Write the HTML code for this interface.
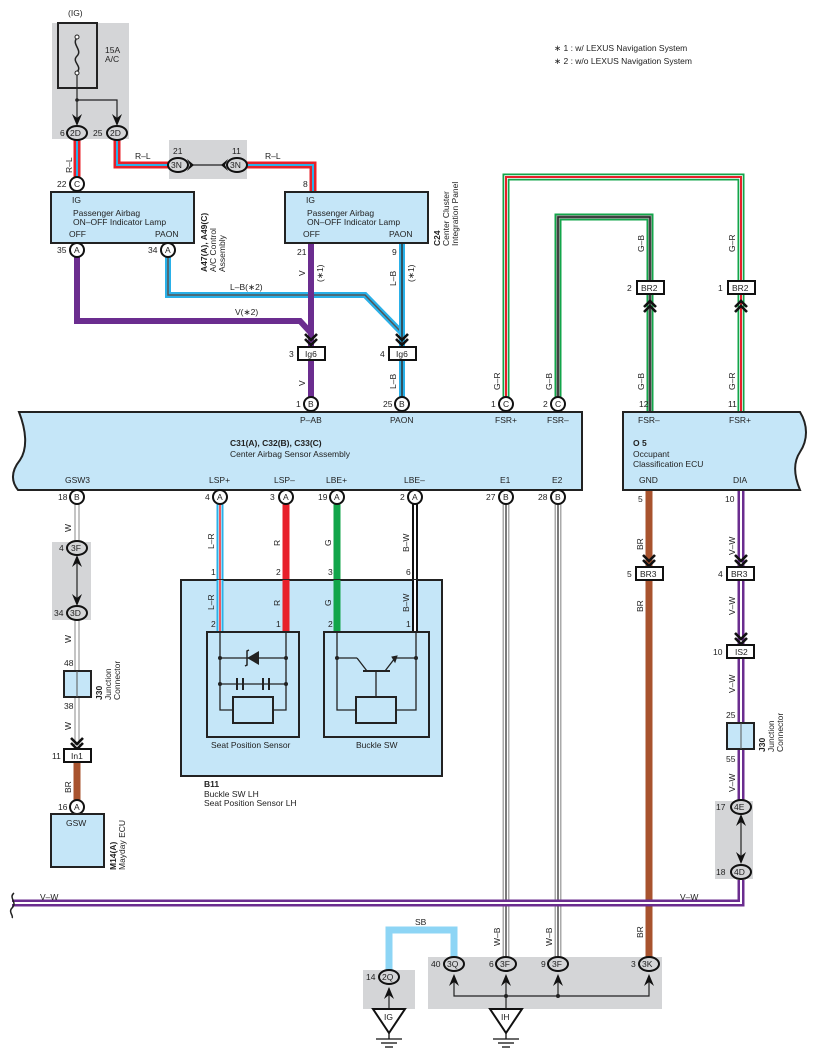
<!DOCTYPE html>
<html><head><meta charset="utf-8"><style>
html,body{margin:0;padding:0;background:#fff}
svg{display:block}
text{font-family:"Liberation Sans",sans-serif;font-size:8.5px;fill:#222}
.b{font-weight:bold}
</style></head><body>
<svg width="816" height="1062" viewBox="0 0 816 1062" xmlns="http://www.w3.org/2000/svg">
<defs>
<g id="chev"><polyline points="-6,-9 0,-3 6,-9" fill="none" stroke="#111" stroke-width="2.6"/><polyline points="-6,-4 0,2 6,-4" fill="none" stroke="#111" stroke-width="2.6"/></g>
<g id="chevu"><polyline points="-6,9 0,3 6,9" fill="none" stroke="#111" stroke-width="2.6"/><polyline points="-6,4 0,-2 6,4" fill="none" stroke="#111" stroke-width="2.6"/></g>
<path id="mu" d="M-5,8 L0,-4 L5,8 L0,4 Z" fill="#111"/>
<path id="md" d="M-5,-8 L0,4 L5,-8 L0,-4 Z" fill="#111"/>
</defs>

<!-- grey boxes -->
<rect x="52" y="23" width="77" height="116" fill="#d4d5d7"/>
<rect x="169" y="140" width="78" height="39" fill="#d4d5d7"/>
<rect x="52" y="542" width="39" height="78" fill="#d4d5d7"/>
<rect x="715" y="801" width="38" height="78" fill="#d4d5d7"/>
<rect x="428" y="957" width="234" height="52" fill="#d4d5d7"/>
<rect x="363" y="970" width="52" height="39" fill="#d4d5d7"/>

<!-- fuse -->
<text x="68" y="16">(IG)</text>
<rect x="58" y="23" width="39" height="65" fill="none" stroke="#222" stroke-width="2"/>
<path d="M77,38 C71,44 83,50 77,56 C71,62 83,66 77,72" fill="none" stroke="#222" stroke-width="1.5"/>
<circle cx="77" cy="37" r="2" fill="#fff" stroke="#222"/><circle cx="77" cy="73" r="2" fill="#fff" stroke="#222"/>
<text x="105" y="53">15A</text><text x="105" y="62">A/C</text>
<polyline points="77,75 77,122" stroke="#222" stroke-width="1.2" fill="none"/>
<polyline points="77,100 117,100 117,122" stroke="#222" stroke-width="1.2" fill="none"/>
<circle cx="77" cy="100" r="1.8" fill="#222"/>
<use href="#md" x="77" y="122"/><use href="#md" x="117" y="122"/>

<!-- R-L wires -->
<g fill="none" stroke-linejoin="miter">
<polyline points="77,140 77,184" stroke="#e8202a" stroke-width="7"/>
<polyline points="77,140 77,184" stroke="#2ab0e8" stroke-width="2"/>
<polyline points="117,140 117,165 170,165" stroke="#e8202a" stroke-width="7"/>
<polyline points="117,140 117,165 170,165" stroke="#2ab0e8" stroke-width="2"/>
<polyline points="245,165 313,165 313,192" stroke="#e8202a" stroke-width="7"/>
<polyline points="245,165 313,165 313,192" stroke="#2ab0e8" stroke-width="2"/>
</g>
<line x1="190" y1="165" x2="225" y2="165" stroke="#222" stroke-width="1.2"/>
<path d="M187,159 L194,165 L187,171 L190,165Z M228,159 L221,165 L228,171 L225,165Z" fill="#111"/>
<ellipse cx="77" cy="133" rx="10" ry="7" fill="#d4d5d7" stroke="#111" stroke-width="2"/><text x="70" y="136">2D</text><text x="60" y="136">6</text>
<ellipse cx="117" cy="133" rx="10" ry="7" fill="#d4d5d7" stroke="#111" stroke-width="2"/><text x="110" y="136">2D</text><text x="93" y="136">25</text>
<ellipse cx="178" cy="165" rx="10" ry="7" fill="#d4d5d7" stroke="#111" stroke-width="2"/><text x="171" y="168">3N</text><text x="173" y="154">21</text>
<ellipse cx="237" cy="165" rx="10" ry="7" fill="#d4d5d7" stroke="#111" stroke-width="2"/><text x="230" y="168">3N</text><text x="232" y="154">11</text>
<text x="135" y="159">R–L</text><text x="265" y="159">R–L</text>
<text transform="translate(72,173) rotate(-90)">R–L</text>
<text x="303" y="187">8</text>

<!-- purple and L-B wires -->
<g fill="none" stroke-linejoin="miter">
<polyline points="168,256 168,295 365,295 402,333" stroke="#2ab0e8" stroke-width="6"/>
<polyline points="168,256 168,295 365,295 402,333" stroke="#555" stroke-width="1.5"/>
<polyline points="77,256 77,321 300,321 311,333 311,398" stroke="#6b2d8f" stroke-width="6"/>
<polyline points="402,243 402,398" stroke="#2ab0e8" stroke-width="6"/>
<polyline points="402,243 402,398" stroke="#333" stroke-width="1.5"/>
<polyline points="311,243 311,335" stroke="#6b2d8f" stroke-width="6"/>
</g>
<text x="230" y="290">L–B(∗2)</text><text x="235" y="315">V(∗2)</text>
<text transform="translate(305,276) rotate(-90)">V</text>
<text transform="translate(323,282) rotate(-90)">(∗1)</text>
<text transform="translate(396,286) rotate(-90)">L–B</text>
<text transform="translate(414,282) rotate(-90)">(∗1)</text>
<text x="297" y="255">21</text><text x="392" y="255">9</text>
<use href="#chev" x="311" y="343"/><use href="#chev" x="402" y="343"/>
<rect x="298" y="347" width="27" height="13" fill="#fff" stroke="#111" stroke-width="2"/><text x="305" y="357">Ig6</text><text x="289" y="357">3</text>
<rect x="389" y="347" width="27" height="13" fill="#fff" stroke="#111" stroke-width="2"/><text x="396" y="357">Ig6</text><text x="380" y="357">4</text>
<text transform="translate(305,386) rotate(-90)">V</text>
<text transform="translate(396,389) rotate(-90)">L–B</text>

<!-- A47 box -->
<rect x="51" y="192" width="143" height="51" fill="#c5e6f8" stroke="#222" stroke-width="2"/>
<text x="72" y="203">IG</text><text x="73" y="216">Passenger Airbag</text><text x="73" y="225">ON–OFF Indicator Lamp</text>
<text x="69" y="237">OFF</text><text x="155" y="237">PAON</text>
<text class="b" transform="translate(207,272) rotate(-90)">A47(A), A49(C)</text>
<text transform="translate(216,272) rotate(-90)">A/C Control</text>
<text transform="translate(225,272) rotate(-90)">Assembly</text>
<!-- C24 box -->
<rect x="285" y="192" width="143" height="51" fill="#c5e6f8" stroke="#222" stroke-width="2"/>
<text x="306" y="203">IG</text><text x="307" y="216">Passenger Airbag</text><text x="307" y="225">ON–OFF Indicator Lamp</text>
<text x="303" y="237">OFF</text><text x="389" y="237">PAON</text>
<text class="b" transform="translate(440,246) rotate(-90)">C24</text>
<text transform="translate(449,246) rotate(-90)">Center Cluster</text>
<text transform="translate(458,246) rotate(-90)">Integration Panel</text>

<circle cx="77" cy="184" r="7" fill="#fff" stroke="#111" stroke-width="2"/><text x="74" y="187">C</text><text x="57" y="187">22</text>
<circle cx="77" cy="250" r="7" fill="#fff" stroke="#111" stroke-width="2"/><text x="74" y="253">A</text><text x="57" y="253">35</text>
<circle cx="168" cy="250" r="7" fill="#fff" stroke="#111" stroke-width="2"/><text x="165" y="253">A</text><text x="148" y="253">34</text>

<!-- G-R / G-B -->
<g fill="none">
<polyline points="506,398 506,177 741,177 741,411" stroke="#12a54a" stroke-width="7"/>
<polyline points="506,398 506,177 741,177 741,411" stroke="#fff" stroke-width="3.5"/>
<polyline points="506,398 506,177 741,177 741,411" stroke="#e8202a" stroke-width="2"/>
<polyline points="558,398 558,217 650,217 650,411" stroke="#12a54a" stroke-width="7"/>
<polyline points="558,398 558,217 650,217 650,411" stroke="#999" stroke-width="3.5"/>
<polyline points="558,398 558,217 650,217 650,411" stroke="#222" stroke-width="1.5"/>
</g>
<text transform="translate(500,390) rotate(-90)">G–R</text>
<text transform="translate(552,390) rotate(-90)">G–B</text>
<text transform="translate(644,252) rotate(-90)">G–B</text>
<text transform="translate(735,252) rotate(-90)">G–R</text>
<text transform="translate(644,390) rotate(-90)">G–B</text>
<text transform="translate(735,390) rotate(-90)">G–R</text>
<text x="639" y="407">12</text><text x="728" y="407">11</text>
<rect x="637" y="281" width="27" height="13" fill="#fff" stroke="#111" stroke-width="2"/><text x="641" y="291">BR2</text><text x="627" y="291">2</text>
<rect x="728" y="281" width="27" height="13" fill="#fff" stroke="#111" stroke-width="2"/><text x="732" y="291">BR2</text><text x="718" y="291">1</text>
<use href="#chevu" x="650" y="303"/><use href="#chevu" x="741" y="303"/>

<!-- lower wires -->
<g fill="none">
<line x1="77" y1="500" x2="77" y2="745" stroke="#888" stroke-width="5"/><line x1="77" y1="500" x2="77" y2="745" stroke="#fff" stroke-width="3"/>
<line x1="77" y1="760" x2="77" y2="802" stroke="#a8532e" stroke-width="7"/>
<line x1="220" y1="500" x2="220" y2="632" stroke="#2ab0e8" stroke-width="7"/><line x1="220" y1="500" x2="220" y2="632" stroke="#fff" stroke-width="3"/><line x1="220" y1="500" x2="220" y2="632" stroke="#e8202a" stroke-width="1.5"/>
<line x1="286" y1="500" x2="286" y2="632" stroke="#e8202a" stroke-width="7"/>
<line x1="337" y1="500" x2="337" y2="632" stroke="#12a54a" stroke-width="7"/>
<line x1="415" y1="500" x2="415" y2="632" stroke="#111" stroke-width="6"/><line x1="415" y1="500" x2="415" y2="632" stroke="#fff" stroke-width="2"/>
<line x1="506" y1="500" x2="506" y2="958" stroke="#aaa" stroke-width="7"/><line x1="506" y1="500" x2="506" y2="958" stroke="#fff" stroke-width="4"/><line x1="506" y1="500" x2="506" y2="958" stroke="#222" stroke-width="1.2"/>
<line x1="558" y1="500" x2="558" y2="958" stroke="#aaa" stroke-width="7"/><line x1="558" y1="500" x2="558" y2="958" stroke="#fff" stroke-width="4"/><line x1="558" y1="500" x2="558" y2="958" stroke="#222" stroke-width="1.2"/>
<line x1="649" y1="490" x2="649" y2="958" stroke="#a8532e" stroke-width="7"/>
<polyline points="741,490 741,903 12,903" stroke="#6b2d8f" stroke-width="7"/>
<polyline points="741,490 741,903 12,903" stroke="#fff" stroke-width="2"/>
<polyline points="389,970 389,930 454,930 454,958" stroke="#8dd5f5" stroke-width="7"/>
</g>
<rect x="736" y="800" width="10" height="80" fill="#d4d5d7"/>
<line x1="741" y1="818" x2="741" y2="862" stroke="#222" stroke-width="1.2"/>
<use href="#mu" x="741" y="818"/><use href="#md" x="741" y="860"/>
<rect x="72" y="542" width="10" height="78" fill="#d4d5d7"/>
<line x1="77" y1="558" x2="77" y2="604" stroke="#222" stroke-width="1.2"/>
<use href="#mu" x="77" y="559"/><use href="#md" x="77" y="602"/>
<path d="M14,893 C8,898 18,902 12,908 C8,912 14,916 12,918" fill="none" stroke="#222" stroke-width="1.5"/>
<text x="40" y="900">V–W</text><text x="680" y="900">V–W</text>

<!-- main box -->
<path d="M19,412 L582,412 L582,490 L18,490 C10,480 12,470 20,460 C28,448 26,430 19,412Z" fill="#c5e6f8" stroke="#222" stroke-width="2"/>
<text class="b" x="230" y="446">C31(A), C32(B), C33(C)</text><text x="230" y="457">Center Airbag Sensor Assembly</text>
<text x="300" y="423">P–AB</text><text x="390" y="423">PAON</text><text x="495" y="423">FSR+</text><text x="547" y="423">FSR–</text>
<text x="65" y="483">GSW3</text><text x="209" y="483">LSP+</text><text x="274" y="483">LSP–</text><text x="326" y="483">LBE+</text><text x="404" y="483">LBE–</text><text x="500" y="483">E1</text><text x="552" y="483">E2</text>
<!-- O5 -->
<path d="M623,412 L800,412 C808,425 808,440 800,452 C792,464 795,478 800,490 L623,490Z" fill="#c5e6f8" stroke="#222" stroke-width="2"/>
<text x="638" y="423">FSR–</text><text x="729" y="423">FSR+</text>
<text class="b" x="633" y="446">O 5</text><text x="633" y="457">Occupant</text><text x="633" y="467">Classification ECU</text>
<text x="639" y="483">GND</text><text x="733" y="483">DIA</text>

<!-- connectors on main box -->
<g stroke="#111" stroke-width="2" fill="#fff">
<circle cx="311" cy="404" r="7"/><circle cx="402" cy="404" r="7"/><circle cx="506" cy="404" r="7"/><circle cx="558" cy="404" r="7"/>
<circle cx="77" cy="497" r="7"/><circle cx="220" cy="497" r="7"/><circle cx="286" cy="497" r="7"/><circle cx="337" cy="497" r="7"/><circle cx="415" cy="497" r="7"/><circle cx="506" cy="497" r="7"/><circle cx="558" cy="497" r="7"/>
</g>
<text x="308" y="407">B</text><text x="296" y="407">1</text><text x="399" y="407">B</text><text x="383" y="407">25</text>
<text x="503" y="407">C</text><text x="491" y="407">1</text><text x="555" y="407">C</text><text x="543" y="407">2</text>
<text x="74" y="500">B</text><text x="58" y="500">18</text><text x="217" y="500">A</text><text x="205" y="500">4</text>
<text x="283" y="500">A</text><text x="270" y="500">3</text><text x="334" y="500">A</text><text x="318" y="500">19</text>
<text x="412" y="500">A</text><text x="400" y="500">2</text><text x="503" y="500">B</text><text x="486" y="500">27</text>
<text x="555" y="500">B</text><text x="538" y="500">28</text>
<text x="638" y="502">5</text><text x="725" y="502">10</text>

<!-- left chain -->
<text transform="translate(71,532) rotate(-90)">W</text>
<ellipse cx="77" cy="548" rx="10" ry="7" fill="#d4d5d7" stroke="#111" stroke-width="2"/><text x="71" y="551">3F</text><text x="59" y="551">4</text>
<ellipse cx="77" cy="613" rx="10" ry="7" fill="#d4d5d7" stroke="#111" stroke-width="2"/><text x="70" y="616">3D</text><text x="54" y="616">34</text>
<text transform="translate(71,643) rotate(-90)">W</text>
<text x="64" y="666">48</text>
<rect x="64" y="671" width="27" height="26" fill="#c5e6f8" stroke="#222" stroke-width="2"/><line x1="77" y1="671" x2="77" y2="697" stroke="#555"/>
<text x="64" y="709">38</text>
<text class="b" transform="translate(102,700) rotate(-90)">J30</text>
<text transform="translate(111,700) rotate(-90)">Junction</text><text transform="translate(120,700) rotate(-90)">Connector</text>
<text transform="translate(71,730) rotate(-90)">W</text>
<use href="#chev" x="77" y="747"/>
<rect x="64" y="749" width="27" height="13" fill="#fff" stroke="#111" stroke-width="2"/><text x="71" y="759">In1</text><text x="52" y="759">11</text>
<text transform="translate(71,793) rotate(-90)">BR</text>
<circle cx="77" cy="807" r="7" fill="#fff" stroke="#111" stroke-width="2"/><text x="74" y="810">A</text><text x="58" y="810">16</text>
<rect x="51" y="814" width="53" height="53" fill="#c5e6f8" stroke="#222" stroke-width="2"/><text x="66" y="826">GSW</text>
<text class="b" transform="translate(116,870) rotate(-90)">M14(A)</text><text transform="translate(125,870) rotate(-90)">Mayday ECU</text>

<!-- B11 -->
<rect x="181" y="580" width="261" height="196" fill="#c5e6f8" stroke="#222" stroke-width="2"/>
<line x1="220" y1="580" x2="220" y2="632" stroke="#2ab0e8" stroke-width="7"/><line x1="220" y1="580" x2="220" y2="632" stroke="#fff" stroke-width="3"/><line x1="220" y1="580" x2="220" y2="632" stroke="#e8202a" stroke-width="1.5"/>
<line x1="286" y1="580" x2="286" y2="632" stroke="#e8202a" stroke-width="7"/>
<line x1="337" y1="580" x2="337" y2="632" stroke="#12a54a" stroke-width="7"/>
<line x1="415" y1="580" x2="415" y2="632" stroke="#111" stroke-width="6"/><line x1="415" y1="580" x2="415" y2="632" stroke="#fff" stroke-width="2"/>
<text transform="translate(214,549) rotate(-90)">L–R</text><text transform="translate(280,546) rotate(-90)">R</text>
<text transform="translate(331,546) rotate(-90)">G</text><text transform="translate(409,552) rotate(-90)">B–W</text>
<text transform="translate(214,610) rotate(-90)">L–R</text><text transform="translate(280,606) rotate(-90)">R</text>
<text transform="translate(331,606) rotate(-90)">G</text><text transform="translate(409,612) rotate(-90)">B–W</text>
<text x="211" y="575">1</text><text x="276" y="575">2</text><text x="328" y="575">3</text><text x="406" y="575">6</text>
<text x="211" y="627">2</text><text x="276" y="627">1</text><text x="328" y="627">2</text><text x="406" y="627">1</text>
<g fill="none" stroke="#222" stroke-width="1.3">
<rect x="207" y="632" width="92" height="105" stroke-width="2"/>
<polyline points="220,632 220,710 233,710"/><polyline points="286,632 286,710 273,710"/>
<rect x="233" y="697" width="40" height="26" stroke-width="2"/>
<line x1="220" y1="658" x2="286" y2="658"/><line x1="220" y1="684" x2="243" y2="684"/><line x1="263" y1="684" x2="286" y2="684"/>
<line x1="237" y1="678" x2="237" y2="690" stroke-width="2"/><line x1="243" y1="678" x2="243" y2="690" stroke-width="2"/>
<line x1="243" y1="684" x2="263" y2="684"/>
<line x1="263" y1="678" x2="263" y2="690" stroke-width="2"/><line x1="269" y1="678" x2="269" y2="690" stroke-width="2"/>
<polyline points="245,666 247,665 247,651 249,650" stroke-width="1.5"/>
<rect x="324" y="632" width="105" height="105" stroke-width="2"/>
<polyline points="337,632 337,710 356,710"/><polyline points="416,632 416,710 396,710"/>
<rect x="356" y="697" width="40" height="26" stroke-width="2"/>
<line x1="337" y1="658" x2="357" y2="658"/><line x1="357" y1="658" x2="367" y2="671"/>
<line x1="363" y1="671" x2="390" y2="671" stroke-width="2"/><line x1="385" y1="671" x2="395" y2="658"/><line x1="395" y1="658" x2="416" y2="658"/>
<line x1="376" y1="671" x2="376" y2="697"/>
</g>
<path d="M247,658 L259,651 L259,665Z" fill="#222"/>
<path d="M397,656 L392,657 L395,662Z" fill="#222" stroke="#222"/>
<g fill="#222"><circle cx="220" cy="658" r="2"/><circle cx="286" cy="658" r="2"/><circle cx="220" cy="684" r="2"/><circle cx="286" cy="684" r="2"/><circle cx="337" cy="658" r="2"/><circle cx="416" cy="658" r="2"/></g>
<text x="211" y="748">Seat Position Sensor</text><text x="356" y="748">Buckle SW</text>
<text class="b" x="204" y="787">B11</text><text x="204" y="797">Buckle SW LH</text><text x="204" y="806">Seat Position Sensor LH</text>

<!-- right chain -->
<text transform="translate(643,550) rotate(-90)">BR</text><text transform="translate(735,555) rotate(-90)">V–W</text>
<use href="#chev" x="649" y="564"/><use href="#chev" x="741" y="564"/>
<rect x="636" y="567" width="27" height="13" fill="#fff" stroke="#111" stroke-width="2"/><text x="640" y="577">BR3</text><text x="627" y="577">5</text>
<rect x="727" y="567" width="27" height="13" fill="#fff" stroke="#111" stroke-width="2"/><text x="731" y="577">BR3</text><text x="718" y="577">4</text>
<text transform="translate(643,612) rotate(-90)">BR</text><text transform="translate(735,615) rotate(-90)">V–W</text>
<use href="#chev" x="741" y="642"/>
<rect x="727" y="645" width="27" height="13" fill="#fff" stroke="#111" stroke-width="2"/><text x="735" y="655">IS2</text><text x="713" y="655">10</text>
<text transform="translate(735,693) rotate(-90)">V–W</text>
<text x="726" y="718">25</text>
<rect x="727" y="723" width="27" height="26" fill="#c5e6f8" stroke="#222" stroke-width="2"/><line x1="741" y1="723" x2="741" y2="749" stroke="#555"/>
<text x="726" y="762">55</text>
<text class="b" transform="translate(765,752) rotate(-90)">J30</text>
<text transform="translate(774,752) rotate(-90)">Junction</text><text transform="translate(783,752) rotate(-90)">Connector</text>
<text transform="translate(735,792) rotate(-90)">V–W</text>
<ellipse cx="741" cy="807" rx="10" ry="7" fill="#d4d5d7" stroke="#111" stroke-width="2"/><text x="734" y="810">4E</text><text x="716" y="810">17</text>
<ellipse cx="741" cy="872" rx="10" ry="7" fill="#d4d5d7" stroke="#111" stroke-width="2"/><text x="734" y="875">4D</text><text x="716" y="875">18</text>

<!-- bottom grounds -->
<text x="415" y="925">SB</text>
<text transform="translate(500,946) rotate(-90)">W–B</text><text transform="translate(552,946) rotate(-90)">W–B</text><text transform="translate(643,938) rotate(-90)">BR</text>
<g fill="none" stroke="#222" stroke-width="1.2">
<polyline points="454,976 454,996 649,996 649,976"/><line x1="506" y1="976" x2="506" y2="1009"/><line x1="558" y1="976" x2="558" y2="996"/>
<line x1="389" y1="988" x2="389" y2="1009"/>
</g>
<circle cx="506" cy="996" r="2" fill="#222"/><circle cx="558" cy="996" r="2" fill="#222"/>
<use href="#mu" x="454" y="978"/><use href="#mu" x="506" y="978"/><use href="#mu" x="558" y="978"/><use href="#mu" x="649" y="978"/><use href="#mu" x="389" y="991"/>
<ellipse cx="454" cy="964" rx="10" ry="7" fill="#d4d5d7" stroke="#111" stroke-width="2"/><text x="447" y="967">3Q</text><text x="431" y="967">40</text>
<ellipse cx="506" cy="964" rx="10" ry="7" fill="#d4d5d7" stroke="#111" stroke-width="2"/><text x="500" y="967">3F</text><text x="489" y="967">6</text>
<ellipse cx="558" cy="964" rx="10" ry="7" fill="#d4d5d7" stroke="#111" stroke-width="2"/><text x="552" y="967">3F</text><text x="541" y="967">9</text>
<ellipse cx="649" cy="964" rx="10" ry="7" fill="#d4d5d7" stroke="#111" stroke-width="2"/><text x="642" y="967">3K</text><text x="631" y="967">3</text>
<ellipse cx="389" cy="977" rx="10" ry="7" fill="#d4d5d7" stroke="#111" stroke-width="2"/><text x="382" y="980">2Q</text><text x="366" y="980">14</text>
<g fill="#fff" stroke="#111" stroke-width="2"><path d="M373,1009 L405,1009 L389,1033Z"/><path d="M490,1009 L522,1009 L506,1033Z"/></g>
<text x="384" y="1020">IG</text><text x="501" y="1020">IH</text>
<g stroke="#111" stroke-width="1.3"><line x1="389" y1="1033" x2="389" y2="1039"/><line x1="376" y1="1039" x2="402" y2="1039"/><line x1="381" y1="1043" x2="397" y2="1043"/><line x1="385" y1="1047" x2="393" y2="1047"/>
<line x1="506" y1="1033" x2="506" y2="1039"/><line x1="493" y1="1039" x2="519" y2="1039"/><line x1="498" y1="1043" x2="514" y2="1043"/><line x1="502" y1="1047" x2="510" y2="1047"/></g>

<text x="554" y="51">∗ 1 : w/ LEXUS Navigation System</text>
<text x="554" y="64">∗ 2 : w/o LEXUS Navigation System</text>
</svg>
</body></html>
